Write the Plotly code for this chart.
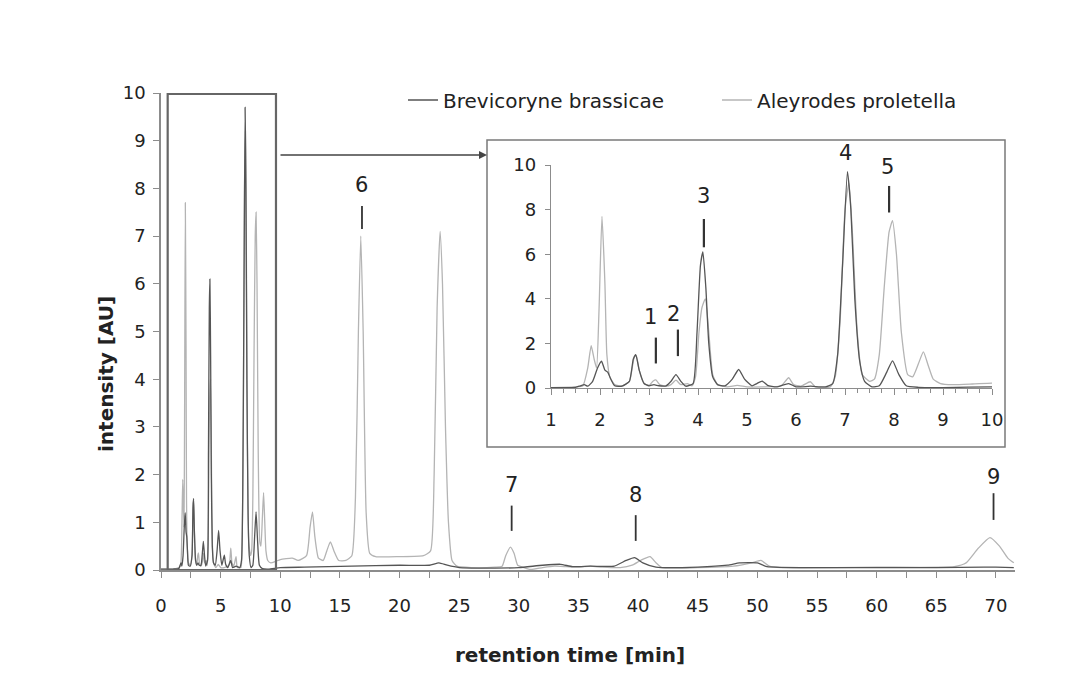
import plotly.graph_objects as go

# ---------------- data ----------------
light_x = [0.0, 1.0, 1.5, 1.65, 1.75, 1.82, 1.88, 1.93, 1.98, 2.04, 2.10, 2.14, 2.2, 2.3, 2.45,
           2.6, 2.7, 2.74, 2.8, 2.9, 3.0, 3.08, 3.14, 3.22, 3.35, 3.45, 3.55, 3.65, 3.78, 3.88,
           3.95, 4.02, 4.08, 4.15, 4.22, 4.3, 4.4, 4.6, 4.8, 5.0, 5.3, 5.7, 5.85, 5.95, 6.1,
           6.29, 6.4, 6.7, 6.8, 6.9, 7.0, 7.08, 7.15, 7.25, 7.35, 7.5, 7.6, 7.7, 7.8, 7.9,
           7.97, 8.05, 8.15, 8.28, 8.38, 8.5, 8.6, 8.7, 8.8, 8.95, 9.2, 9.6, 10.0,
           11.0, 11.5, 12.2, 12.5, 12.7, 12.9, 13.2, 13.6, 13.9, 14.2, 14.5, 14.9, 15.5, 16.0,
           16.3, 16.55, 16.75, 16.95, 17.2, 17.5, 18.0, 20.0, 22.0, 22.6, 22.9, 23.15, 23.4,
           23.6, 23.85, 24.1, 24.4, 24.8, 26.0, 28.0, 28.6, 28.9, 29.3, 29.6, 29.9, 30.3,
           31.0, 32.0, 33.0, 34.0, 35.0, 36.0, 37.0, 38.5, 39.5, 40.2, 41.0, 41.5, 42.0,
           45.0, 48.0, 49.5, 50.3, 51.0, 52.0, 60.0, 66.5, 67.5, 68.5, 69.5, 70.3, 71.0, 71.5]
light_y = [0.02, 0.02, 0.05, 0.1, 0.9, 1.9, 1.3, 0.9, 3.5, 7.7, 4.7, 1.5, 0.5, 0.15, 0.1,
           0.3, 1.4, 1.45, 0.8, 0.2, 0.12, 0.3, 0.36, 0.15, 0.08, 0.15, 0.35, 0.15, 0.2, 0.1,
           0.5, 2.5, 3.6, 4.0, 2.5, 0.6, 0.15, 0.05, 0.12, 0.05, 0.05, 0.1, 0.46, 0.15, 0.08,
           0.28, 0.05, 0.05, 0.5, 3.0, 8.0, 9.2, 7.0, 2.5, 0.6, 0.3, 0.4, 1.5, 4.5, 7.0,
           7.5, 6.0, 2.5, 0.6, 0.5, 1.1, 1.62, 1.0, 0.4, 0.2, 0.15, 0.18, 0.22,
           0.25, 0.2, 0.3, 0.9, 1.22, 0.7, 0.25, 0.2, 0.4, 0.59, 0.4, 0.2, 0.2, 0.3,
           1.5, 5.0, 7.0, 5.0, 1.2, 0.35, 0.28, 0.28, 0.3, 0.4, 2.0, 5.5, 7.1,
           6.0, 3.0, 1.0, 0.2, 0.08, 0.05, 0.06, 0.08, 0.3, 0.48, 0.35, 0.1, 0.06,
           0.01, 0.05, 0.08, 0.07, 0.06, 0.08, 0.06, 0.05, 0.1, 0.2, 0.28, 0.15, 0.05,
           0.05, 0.08, 0.15, 0.2, 0.08, 0.05, 0.06, 0.07, 0.15, 0.45, 0.68, 0.5, 0.25, 0.15]

dark_x = [0.0, 1.0, 1.5, 1.6, 1.68, 1.75, 1.85, 1.95, 2.03, 2.1, 2.16, 2.22, 2.3, 2.45, 2.6,
          2.68, 2.73, 2.8, 2.9, 3.0, 3.1, 3.2, 3.35, 3.45, 3.55, 3.65, 3.75, 3.9, 3.98, 4.05,
          4.1, 4.16, 4.22, 4.3, 4.4, 4.55, 4.7, 4.83, 4.95, 5.1, 5.2, 5.31, 5.42, 5.6, 5.85,
          6.0, 6.3, 6.6, 6.75, 6.85, 6.95, 7.05, 7.12, 7.2, 7.3, 7.4, 7.55, 7.7, 7.85, 7.97,
          8.1, 8.25, 8.5, 9.0, 10.0, 12.0, 16.0, 20.0, 22.5, 23.3, 24.0, 25.0, 28.0, 30.0,
          32.0, 33.5, 34.5, 36.0, 38.0, 39.0, 39.7, 40.4, 41.5, 45.0, 47.5, 48.5, 50.0, 50.8,
          55.0, 60.0, 65.0, 69.0, 70.0, 71.5]
dark_y = [0.02, 0.02, 0.03, 0.1, 0.15, 0.08, 0.3, 0.9, 1.2, 0.8, 0.7, 0.4, 0.1, 0.08, 0.3,
          1.3, 1.5, 0.8, 0.2, 0.1, 0.15, 0.1, 0.1, 0.3, 0.6, 0.3, 0.08, 0.2, 2.5, 5.5,
          6.1, 4.5, 2.0, 0.5, 0.15, 0.1, 0.4, 0.83, 0.4, 0.1, 0.2, 0.31, 0.12, 0.05, 0.2,
          0.05, 0.08, 0.05, 0.2, 1.5, 5.5, 9.7, 8.0, 4.0, 1.2, 0.3, 0.05, 0.1, 0.7, 1.22,
          0.6, 0.1, 0.03, 0.02, 0.05, 0.06, 0.08, 0.1, 0.1, 0.15, 0.1, 0.05, 0.04, 0.05,
          0.1, 0.12, 0.07, 0.08, 0.08, 0.2, 0.26, 0.15, 0.06, 0.06, 0.1, 0.15, 0.15, 0.07,
          0.05, 0.05, 0.05, 0.06, 0.06, 0.05]

series_names = ["Brevicoryne brassicae", "Aleyrodes proletella"]

# peak labels: main chart
main_labels = ["6", "7", "8", "9"]
main_label_x = [16.85, 29.4, 39.8, 69.8]
main_label_y = [8.07, 1.78, 1.57, 1.95]
main_tick_lo = [7.15, 0.82, 0.61, 1.05]
main_tick_hi = [7.63, 1.35, 1.15, 1.61]

# peak labels: inset
inset_labels = ["1", "2", "3", "5"]
inset_label_x = [3.04, 3.51, 4.12, 7.87]
inset_label_y = [3.18, 3.33, 8.6, 9.9]
inset_tick_x = [3.14, 3.59, 4.12, 7.9]
inset_tick_lo = [1.10, 1.43, 6.31, 7.87]
inset_tick_hi = [2.26, 2.62, 7.58, 9.06]
peak4_label = "4"

# ---------------- layout helpers (screen pixels; page body margin = 8px) ----------------
OFF = 8
W, H = 1050, 668
L, R, T, B = 161, 1015, 93, 570   # main plot area in screen pixels


def px(xp):
    return (xp - L) / (R - L)


def py(yp):
    return (B - yp) / (B - T)


DARK = "#555555"
LIGHT = "#b4b4b4"
AX = "#8c8c8c"
TXT = "#222222"
FONT = "DejaVu Sans"

fig = go.Figure()

# main traces
fig.add_trace(go.Scatter(x=light_x, y=light_y, mode="lines", name=series_names[1],
                         line=dict(color=LIGHT, width=1.3, shape="spline", smoothing=0.5),
                         xaxis="x", yaxis="y", showlegend=False))
fig.add_trace(go.Scatter(x=dark_x, y=dark_y, mode="lines", name=series_names[0],
                         line=dict(color=DARK, width=1.3, shape="spline", smoothing=0.5),
                         xaxis="x", yaxis="y", showlegend=True, legendrank=1))
# legend entry for light series
fig.add_trace(go.Scatter(x=[None], y=[None], mode="lines", name=series_names[1],
                         line=dict(color=LIGHT, width=1.3), xaxis="x", yaxis="y",
                         showlegend=True, legendrank=2))
# inset traces
fig.add_trace(go.Scatter(x=light_x, y=light_y, mode="lines", name=series_names[1],
                         line=dict(color=LIGHT, width=1.3, shape="spline", smoothing=0.5),
                         xaxis="x2", yaxis="y2", showlegend=False))
fig.add_trace(go.Scatter(x=dark_x, y=dark_y, mode="lines", name=series_names[0],
                         line=dict(color=DARK, width=1.3, shape="spline", smoothing=0.5),
                         xaxis="x2", yaxis="y2", showlegend=False))

shapes = []
# inset box
shapes.append(dict(type="rect", xref="paper", yref="paper",
                   x0=px(487), x1=px(1005), y0=py(447), y1=py(140),
                   line=dict(color="#7a7a7a", width=1.5), fillcolor="white", layer="below"))
# selection rectangle on main chart
shapes.append(dict(type="rect", xref="x", yref="y", x0=0.56, x1=9.64, y0=0, y1=9.98,
                   line=dict(color="#666666", width=2.2), fillcolor="rgba(0,0,0,0)"))
# peak tick lines main
for xv, lo, hi in zip(main_label_x, main_tick_lo, main_tick_hi):
    shapes.append(dict(type="line", xref="x", yref="y", x0=xv, x1=xv, y0=lo, y1=hi,
                       line=dict(color="#333333", width=1.8)))
# peak tick lines inset
for xv, lo, hi in zip(inset_tick_x, inset_tick_lo, inset_tick_hi):
    shapes.append(dict(type="line", xref="x2", yref="y2", x0=xv, x1=xv, y0=lo, y1=hi,
                       line=dict(color="#333333", width=2.2)))

annotations = []
for t, xv, yv in zip(main_labels, main_label_x, main_label_y):
    annotations.append(dict(text=t, x=xv, y=yv, xref="x", yref="y", showarrow=False,
                            xanchor="center", yanchor="middle",
                            font=dict(size=21, color=TXT, family=FONT)))
for t, xv, yv in zip(inset_labels, inset_label_x, inset_label_y):
    annotations.append(dict(text=t, x=xv, y=yv, xref="x2", yref="y2", showarrow=False,
                            xanchor="center", yanchor="middle",
                            font=dict(size=21, color=TXT, family=FONT)))
# label "4" sits above the inset axis range -> paper coordinates
annotations.append(dict(text=peak4_label, x=px(845), y=py(153), xref="paper", yref="paper",
                        showarrow=False, xanchor="center", yanchor="middle",
                        font=dict(size=21, color=TXT, family=FONT)))
# arrow from selection to inset
annotations.append(dict(text="", x=px(487), y=py(155), xref="paper", yref="paper",
                        ax=-(487 - 279), ay=0, showarrow=True, arrowhead=2,
                        arrowsize=1, arrowwidth=1.6, arrowcolor="#444444"))
# axis titles
annotations.append(dict(text="<b>retention time [min]</b>", x=px(570), y=py(655),
                        xref="paper", yref="paper", showarrow=False,
                        xanchor="center", yanchor="middle",
                        font=dict(size=20, color=TXT, family=FONT)))
annotations.append(dict(text="<b>intensity [AU]</b>", x=px(106), y=py(374),
                        xref="paper", yref="paper", showarrow=False, textangle=-90,
                        xanchor="center", yanchor="middle",
                        font=dict(size=20, color=TXT, family=FONT)))

fig.update_layout(
    width=W, height=H,
    margin=dict(l=L - OFF, r=W - (R - OFF), t=T - OFF, b=H - (B - OFF), pad=0),
    paper_bgcolor="white", plot_bgcolor="rgba(0,0,0,0)",
    font=dict(family=FONT, size=18, color=TXT),
    showlegend=True,
    legend=dict(orientation="h", x=px(403), xanchor="left", y=py(100), yanchor="middle",
                font=dict(size=20, color=TXT, family=FONT), bgcolor="rgba(0,0,0,0)",
                itemwidth=30, entrywidth=269, entrywidthmode="pixels",
                traceorder="normal"),
    xaxis=dict(domain=[0, 1], range=[0, 71.6], showgrid=False, zeroline=False,
               showline=True, linecolor=AX, linewidth=1.5,
               ticks="outside", ticklen=6, tickcolor=AX, tickwidth=1.2,
               tick0=0, dtick=5, ticklabelstandoff=13,
               minor=dict(ticks="outside", dtick=2.5, ticklen=6, tickcolor=AX, tickwidth=1.2),
               tickfont=dict(size=18, color=TXT), anchor="y"),
    yaxis=dict(domain=[0, 1], range=[0, 10], showgrid=False, zeroline=False,
               showline=True, linecolor=AX, linewidth=1.5,
               ticks="outside", ticklen=6, tickcolor=AX, tickwidth=1.2,
               tick0=0, dtick=1, ticklabelstandoff=4,
               tickfont=dict(size=18, color=TXT), anchor="x"),
    xaxis2=dict(domain=[px(551), px(992)], range=[1, 10], showgrid=False, zeroline=False,
                showline=True, linecolor=AX, linewidth=1.4,
                ticks="outside", ticklen=6, tickcolor=AX, tickwidth=1.2,
                tick0=1, dtick=1, ticklabelstandoff=9,
                minor=dict(ticks="outside", dtick=0.25, ticklen=4, tickcolor=AX, tickwidth=1),
                tickfont=dict(size=18, color=TXT), anchor="y2"),
    yaxis2=dict(domain=[py(388), py(165)], range=[0, 10], showgrid=False, zeroline=False,
                showline=True, linecolor=AX, linewidth=1.4,
                ticks="outside", ticklen=5, tickcolor=AX, tickwidth=1.2,
                tick0=0, dtick=2, ticklabelstandoff=5,
                tickfont=dict(size=18, color=TXT), anchor="x2"),
    shapes=shapes,
    annotations=annotations,
)

fig.write_html("out.html")
